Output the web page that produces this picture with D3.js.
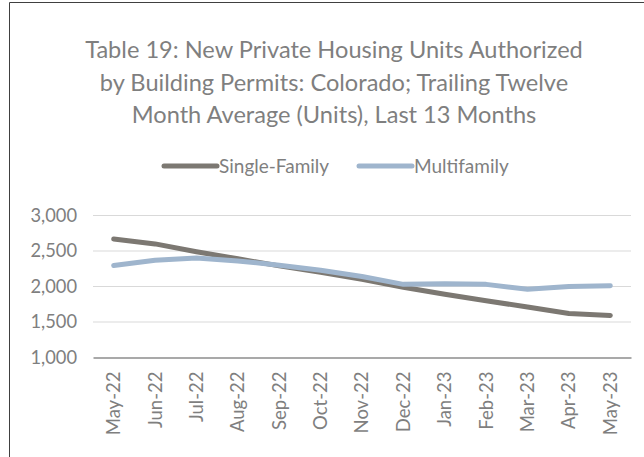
<!DOCTYPE html>
<html><head><meta charset="utf-8">
<script src="https://cdn.jsdelivr.net/npm/d3@7"></script>
<style>html,body{margin:0;padding:0;background:#fff;}svg{display:block;}</style>
</head><body>
<svg id="c" width="644" height="457"></svg>
<script>
const months = ["May-22","Jun-22","Jul-22","Aug-22","Sep-22","Oct-22","Nov-22","Dec-22","Jan-23","Feb-23","Mar-23","Apr-23","May-23"];
const singleFamily = [2668,2600,2490,2390,2290,2200,2100,1990,1890,1800,1710,1620,1592];
const multifamily = [2296,2370,2400,2360,2300,2230,2140,2030,2040,2030,1960,2000,2010];
const yTicks = [1000,1500,2000,2500,3000];
const titleLines = ["Table 19: New Private Housing Units Authorized","by Building Permits: Colorado; Trailing Twelve","Month Average (Units), Last 13 Months"];
const seriesNames = ["Single-Family","Multifamily"];

const FONT = "Lato, 'Open Sans', sans-serif";
const svg = d3.select("#c");
const textCol = "#7f7f7f";
const colors = ["#7c7872","#9fb5cd"];

// chart border
svg.append("path").attr("d","M9.5,457 V2.5 H644").attr("fill","none").attr("stroke","#404040").attr("stroke-width",1);

// title
const title = svg.append("g");
titleLines.forEach((t,i)=>{
  title.append("text").attr("x",334).attr("y",58+i*32.5).attr("text-anchor","middle")
    .attr("font-family",FONT).attr("font-size",23.6).attr("fill",textCol).text(t);
});

const x = d3.scaleBand().domain(months).range([93,631]);
const y = d3.scaleLinear().domain([1000,3000]).range([357.5,215.5]);

// gridlines
const grid = svg.append("g");
grid.selectAll("line").data(yTicks.filter(d=>d>1000)).join("line")
  .attr("x1",93).attr("x2",631).attr("y1",d=>y(d)).attr("y2",d=>y(d))
  .attr("stroke","#d9d9d9").attr("stroke-width",1.2);

// y axis labels
const yAxis = d3.axisLeft(y).tickValues(yTicks).tickFormat(d3.format(",")).tickSize(0).tickPadding(16);
const ya = svg.append("g").attr("transform","translate(93,0)").call(yAxis);
ya.select(".domain").remove();
ya.selectAll("text").attr("font-family",FONT).attr("font-size",18.3).attr("fill",textCol);

// x axis
const xAxis = d3.axisBottom(x).tickSize(0).tickPadding(0);
const xa = svg.append("g").attr("transform",`translate(0,${y(1000)})`).call(xAxis);
xa.select(".domain").attr("stroke","#8c8c8c").attr("stroke-width",1.5);
xa.selectAll("text").attr("font-family",FONT).attr("font-size",18.5).attr("fill",textCol)
  .attr("transform","rotate(-90)").attr("text-anchor","end").attr("dx","-14").attr("dy","0.35em").attr("y",0).attr("x",0);

// lines
const line = d3.line().x((d,i)=>x(months[i])+x.bandwidth()/2).y(d=>y(d));
svg.append("path").datum(singleFamily).attr("d",line).attr("fill","none")
  .attr("stroke",colors[0]).attr("stroke-width",5).attr("stroke-linecap","round").attr("stroke-linejoin","round");
svg.append("path").datum(multifamily).attr("d",line).attr("fill","none")
  .attr("stroke",colors[1]).attr("stroke-width",5).attr("stroke-linecap","round").attr("stroke-linejoin","round");

// legend
const legendItems = [{x1:164,x2:217,tx:219},{x1:359,x2:412,tx:414}];
seriesNames.forEach((n,i)=>{
  const L = legendItems[i];
  svg.append("line").attr("x1",L.x1).attr("x2",L.x2).attr("y1",166).attr("y2",166)
    .attr("stroke",colors[i]).attr("stroke-width",5).attr("stroke-linecap","round");
  svg.append("text").attr("x",L.tx).attr("y",166).attr("dy","0.35em")
    .attr("font-family",FONT).attr("font-size",19).attr("fill",textCol).text(n);
});
</script>
</body></html>
